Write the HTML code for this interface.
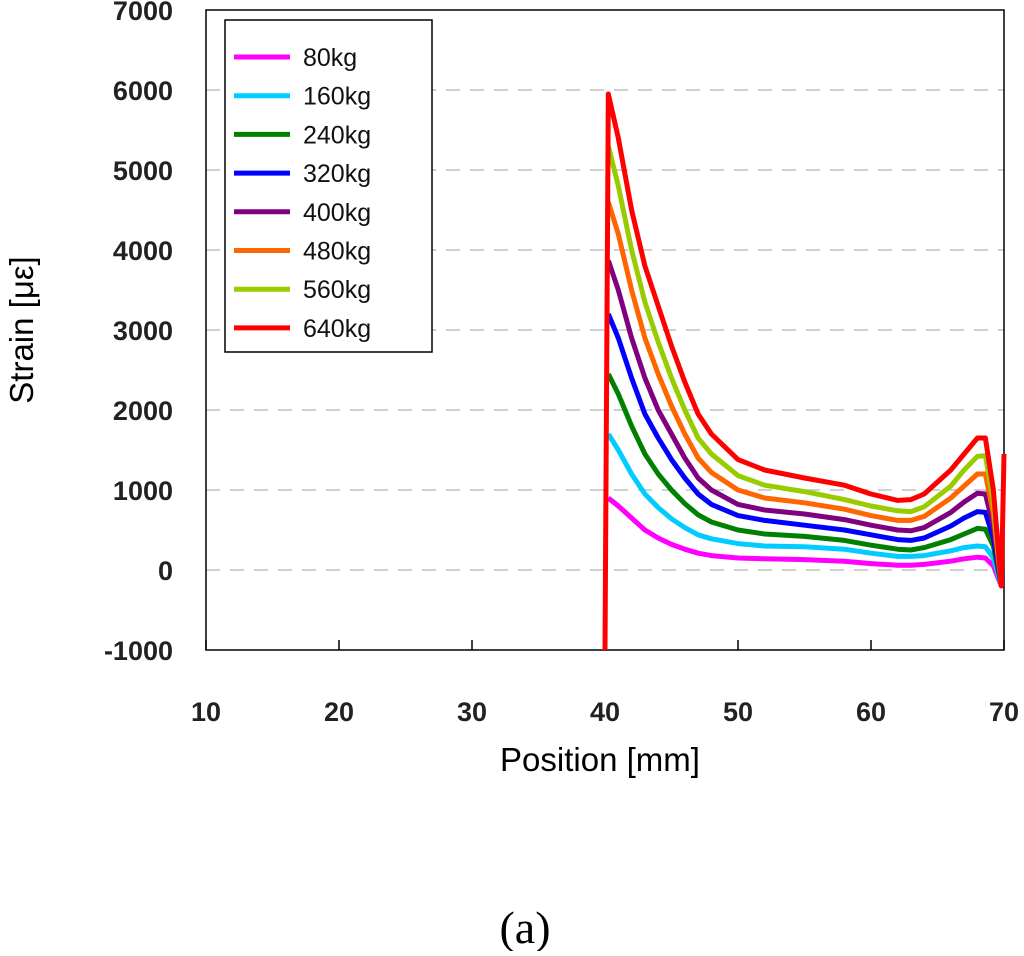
<!DOCTYPE html>
<html><head><meta charset="utf-8"><style>
body{margin:0;background:#fff;}
svg text{font-family:"Liberation Sans",sans-serif;}
</style></head><body>
<svg id="c" width="1024" height="951" xmlns="http://www.w3.org/2000/svg"></svg>
<script>
const xTicks=[10,20,30,40,50,60,70];
const yTicks=[-1000,0,1000,2000,3000,4000,5000,6000,7000];
const seriesNames=["80kg","160kg","240kg","320kg","400kg","480kg","560kg","640kg"];
const positions=[40.25,41,42,43,44,45,46,47,48,50,52,55,58,60,62,63,64,66,67,68,68.6,69.2,69.8];
const s80=[900,800,650,500,400,320,260,210,180,150,140,130,110,80,60,60,70,110,140,160,150,50,-200];
const s160=[1700,1500,1200,950,780,640,530,440,390,330,300,290,260,210,170,170,180,240,280,300,290,150,-200];
const s240=[2450,2200,1800,1450,1200,1000,830,690,600,500,450,420,370,310,260,250,280,380,450,520,510,300,-200];
const s320=[3200,2900,2400,1950,1650,1380,1150,950,820,680,620,560,500,440,380,370,400,550,650,730,720,400,-200];
const s400=[3870,3500,2900,2400,2000,1700,1400,1150,1000,820,750,700,630,560,500,490,530,720,850,960,950,550,-200];
const s480=[4600,4200,3500,2900,2450,2050,1700,1400,1220,1000,900,840,760,680,620,620,670,900,1050,1200,1200,700,-200];
const s560=[5300,4800,4000,3350,2850,2400,2000,1650,1450,1180,1060,980,880,800,740,730,790,1050,1250,1420,1430,850,-200];
const s640=[5950,5400,4500,3800,3300,2800,2350,1950,1700,1380,1250,1150,1060,950,870,880,950,1250,1450,1650,1650,1000,-200];
const redStart=[40.0,-1000];
const redEnd=[70,1450];
const colors=["#ff00ff","#00ccff","#008000","#0000ff","#800080","#ff6600","#99cc00","#ff0000"];
const allSeries=[s80,s160,s240,s320,s400,s480,s560,s640];

const L=206,R=1004,T=10,B=650;
const sx=v=>L+(v-10)/60*(R-L);
const sy=v=>B-(v+1000)/8000*(B-T);
const svg=document.getElementById('c');
const NS="http://www.w3.org/2000/svg";
function mk(t,a){const e=document.createElementNS(NS,t);for(const k in a)e.setAttribute(k,a[k]);svg.appendChild(e);return e;}

yTicks.forEach(v=>{
 if(v>-1000&&v<7000){const g=mk('line',{x1:L,x2:R,y1:sy(v),y2:sy(v),stroke:'#c0c0c0','stroke-width':1.5,'stroke-dasharray':'14,10'});
 
 }
 const t=mk('text',{x:173,y:sy(v)+10,'text-anchor':'end','font-size':27,'font-weight':'bold',fill:'#222'});
 t.textContent=v;
 
 
});
xTicks.forEach(v=>{
 const t=mk('text',{x:sx(v),y:721,'text-anchor':'middle','font-size':27,'font-weight':'bold',fill:'#222'});
 t.textContent=v;
 
 
 const k=mk('line',{x1:sx(v),x2:sx(v),y1:B,y2:B-10,stroke:'#000','stroke-width':1.5});
 
 
});
const frame=mk('rect',{x:L,y:T,width:R-L,height:B-T,fill:'none',stroke:'#000','stroke-width':1.5});



allSeries.forEach((s,i)=>{
 let pts=positions.map((p,j)=>sx(p)+','+sy(s[j]));
 if(i===7){pts.unshift(sx(redStart[0])+','+sy(redStart[1]));pts.push(sx(redEnd[0])+','+sy(redEnd[1]));}
 else pts.unshift(sx(40.25)+','+sy(s[0]));
 const pl=mk('polyline',{points:pts.join(' '),fill:'none',stroke:colors[i],'stroke-width':5,'stroke-linejoin':'round'});
 
 
});

const lg=mk('rect',{x:225,y:20,width:207,height:332,fill:'#fff',stroke:'#000','stroke-width':1.5});


seriesNames.forEach((n,i)=>{
 const y=57+i*38.7;
 const l=mk('line',{x1:234,x2:290,y1:y,y2:y,stroke:colors[i],'stroke-width':5});
 
 
 const t=mk('text',{x:303,y:y+9,'font-size':25,fill:'#111'});
 t.textContent=n;
 
 
});
const xt=mk('text',{x:600,y:771,'text-anchor':'middle','font-size':33,fill:'#000'});
xt.textContent='Position [mm]';


const yt=mk('text',{x:0,y:0,'text-anchor':'middle','font-size':33,fill:'#000',transform:'translate(33,330) rotate(-90)'});
yt.textContent='Strain [με]';


const cap=mk('text',{x:525,y:943,'text-anchor':'middle','font-size':46,fill:'#000',style:'font-family:"Liberation Serif",serif'});
cap.textContent='(a)';


</script>
</body></html>
